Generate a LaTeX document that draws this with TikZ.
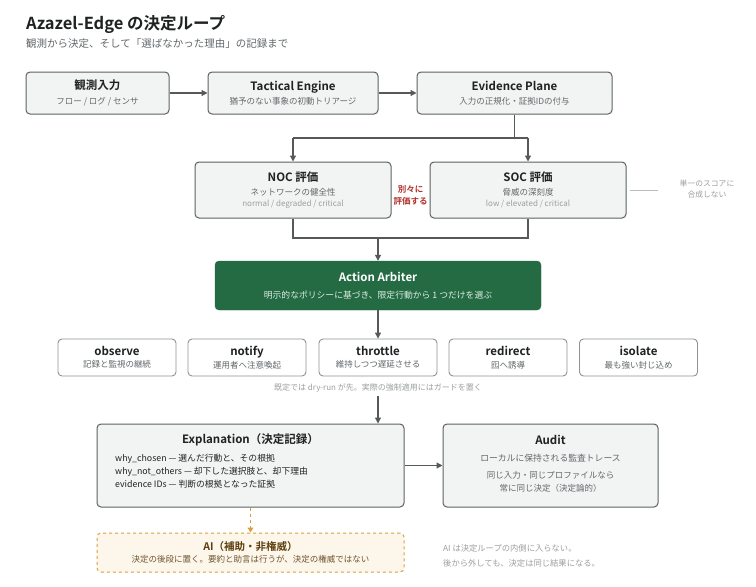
\documentclass[tikz,border=0pt]{standalone}
\usepackage{fontspec}
\setmainfont{Noto Sans CJK JP}[BoldFont={Noto Sans CJK JP Bold}]
\usetikzlibrary{arrows.meta,positioning}

\definecolor{ink}{HTML}{1E2321}
\definecolor{subgray}{HTML}{62676A}
\definecolor{paleink}{HTML}{9A9F9D}
\definecolor{panel}{HTML}{F1F4F3}
\definecolor{rim}{HTML}{5C615F}
\definecolor{softrim}{HTML}{8E9391}
\definecolor{wire}{HTML}{555A58}
\definecolor{arbgreen}{HTML}{246B44}
\definecolor{arbsub}{HTML}{DDEDE3}
\definecolor{warnred}{HTML}{B0322A}
\definecolor{aiorange}{HTML}{D8A040}
\definecolor{aifill}{HTML}{FDF6EA}
\definecolor{aibrown}{HTML}{5E3F10}
\definecolor{aisub}{HTML}{6E5530}

\newcommand{\boxhead}[1]{{\fontsize{11.5}{14}\bfseries\selectfont #1}}
\newcommand{\boxnote}[1]{{\fontsize{8.5}{12}\selectfont\color{subgray}#1}}
\newcommand{\boxtag}[1]{{\fontsize{8}{12}\selectfont\color{paleink}#1}}

\tikzset{
  stage/.style={draw=rim, fill=panel, line width=1pt, rounded corners=4pt, inner sep=0pt,
    align=center, text=ink, font=\fontsize{9}{12}\selectfont},
  choice/.style={draw=softrim, fill=white, line width=0.9pt, rounded corners=4pt, inner sep=0pt,
    minimum width=118pt, minimum height=37pt, align=center, text=ink, font=\fontsize{8.5}{12}\selectfont},
  flow/.style={draw=wire, line width=1.2pt, -{Triangle[width=6pt,length=6pt]}},
  link/.style={draw=wire, line width=1.2pt},
  note/.style={text=paleink, font=\fontsize{8}{12.5}\selectfont, inner sep=0pt},
}

\begin{document}
\begin{tikzpicture}[x=1pt,y=-1pt]
\useasboundingbox (0,0) rectangle (756,587);

% heading
\node[anchor=base west, inner sep=0pt, text=ink, font=\fontsize{16.5}{20}\bfseries\selectfont] (title) at (26,29) {Azazel-Edge の決定ループ};
\node[anchor=base west, inner sep=0pt, text=subgray, font=\fontsize{10.5}{13}\selectfont] (subtitle) at (26,47) {観測から決定、そして「選ばなかった理由」の記録まで};

% intake row
\node[stage, minimum width=143pt, minimum height=42pt] (obs) at (97.5,93) {\boxhead{観測入力}\\[2.5pt]\boxnote{フロー / ログ / センサ}};
\node[stage, minimum width=170pt, minimum height=42pt] (tac) at (293,93) {\boxhead{Tactical Engine}\\[2.5pt]\boxnote{猶予のない事象の初動トリアージ}};
\node[stage, minimum width=195pt, minimum height=42pt] (evd) at (514.5,93) {\boxhead{Evidence Plane}\\[2.5pt]\boxnote{入力の正規化・証拠IDの付与}};

\draw[flow] (obs) -- (tac);
\draw[flow] (tac) -- (evd);

% separate evaluation
\node[stage, minimum width=196pt, minimum height=56pt] (noc) at (293,190) {\boxhead{NOC 評価}\\[2pt]\boxnote{ネットワークの健全性}\\[-1pt]\boxtag{normal / degraded / critical}};
\node[stage, minimum width=196pt, minimum height=56pt] (soc) at (528,190) {\boxhead{SOC 評価}\\[2pt]\boxnote{脅威の深刻度}\\[-1pt]\boxtag{low / elevated / critical}};

\coordinate (split) at (514.5,138);
\coordinate (splitL) at (293,138);
\coordinate (splitR) at (528,138);
\draw[link] (evd.south) -- (split);
\draw[link] (splitL) -- (splitR);
\draw[flow] (splitL) -- (noc.north);
\draw[flow] (splitR) -- (soc.north);

\node[align=center, inner sep=0pt, text=warnred, font=\fontsize{8.5}{12.5}\bfseries\selectfont] (apart) at (410.5,195.5) {別々に\\評価する};

\coordinate (sideL) at (630,190);
\coordinate (sideR) at (658,190);
\draw[draw=paleink!70, line width=0.8pt] (sideL) -- (sideR);
\node[note, align=center, font=\fontsize{7.8}{11.5}\selectfont] (nomerge) at (707,189) {単一のスコアに\\合成しない};

% merge into arbiter
\node[draw=arbgreen, fill=arbgreen, rounded corners=4pt, inner sep=0pt, minimum width=326pt, minimum height=49pt, align=center, text=white] (arb) at (378,285.5)
  {\boxhead{Action Arbiter}\\[5pt]{\fontsize{8.8}{12}\selectfont\color{arbsub}明示的なポリシーに基づき、限定行動から 1 つだけを選ぶ}};

\coordinate (joinL) at (293,238);
\coordinate (joinR) at (528,238);
\coordinate (join) at (378,238);
\draw[link] (noc.south) -- (joinL) -- (joinR) -- (soc.south);
\draw[flow] (join) -- (arb.north);

% bounded actions
\node[choice] (act1) at (117,357.5) {\boxhead{observe}\\[0.5pt]\boxnote{記録と監視の継続}};
\node[choice] (act2) at (247,357.5) {\boxhead{notify}\\[0.5pt]\boxnote{運用者へ注意喚起}};
\node[choice] (act3) at (378,357.5) {\boxhead{throttle}\\[0.5pt]\boxnote{維持しつつ遅延させる}};
\node[choice] (act4) at (508,357.5) {\boxhead{redirect}\\[0.5pt]\boxnote{囮へ誘導}};
\node[choice] (act5) at (638.5,357.5) {\boxhead{isolate}\\[0.5pt]\boxnote{最も強い封じ込め}};

\draw[flow] (arb.south) -- (act3.north);

\node[note] (dryrun) at (378,388) {既定では dry-run が先。実際の強制適用にはガードを置く};

% record and audit
\node[stage, minimum width=307pt, minimum height=83pt] (expl) at (250.5,465.5) {};
\node[inner sep=0pt, text=ink, font=\fontsize{11.5}{14}\bfseries\selectfont] (explhead) at (250.5,440) {Explanation（決定記録）};
\node[anchor=west, align=left, inner sep=0pt, text=ink, font=\fontsize{8.8}{13}\selectfont] (expllist) at (115,471)
  {why\_chosen — 選んだ行動と、その根拠\\why\_not\_others — 却下した選択肢と、却下理由\\evidence IDs — 判断の根拠となった証拠};

\node[stage, minimum width=215pt, minimum height=83pt] (audit) at (550.5,465.5) {};
\node[inner sep=0pt, text=ink, font=\fontsize{11.5}{14}\bfseries\selectfont] (audithead) at (550.5,440) {Audit};
\node[inner sep=0pt, text=subgray, font=\fontsize{8.8}{12}\selectfont] (auditsub) at (550.5,458) {ローカルに保持される監査トレース};
\node[align=center, inner sep=0pt, text=subgray, font=\fontsize{8.5}{12.5}\selectfont] (auditrule) at (550.5,482) {同じ入力・同じプロファイルなら\\常に同じ決定（決定論的）};

\coordinate (gate) at (378,396);
\draw[flow] (gate) -- (expl.north -| gate);
\draw[flow] (expl.east) -- (audit.west);

% advisory AI, outside the loop
\node[draw=aiorange, fill=aifill, dashed, line width=1pt, rounded corners=4pt, inner sep=0pt, minimum width=307pt, minimum height=39pt, align=center, text=aibrown] (ai) at (250.5,552.5)
  {{\fontsize{10.5}{13}\bfseries\selectfont AI（補助・非権威）}\\[0pt]{\fontsize{8.5}{12}\selectfont\color{aisub}決定の後段に置く。要約と助言は行うが、決定の権威ではない}};
\draw[draw=aiorange, line width=1pt, dashed, -{Triangle[width=6pt,length=5pt]}] (expl.south) -- (ai.north);

\node[note, anchor=west, align=left, font=\fontsize{8.3}{15}\selectfont] (outside) at (443,555.5) {AI は決定ループの内側に入らない。\\後から外しても、決定は同じ結果になる。};

\end{tikzpicture}
\end{document}
